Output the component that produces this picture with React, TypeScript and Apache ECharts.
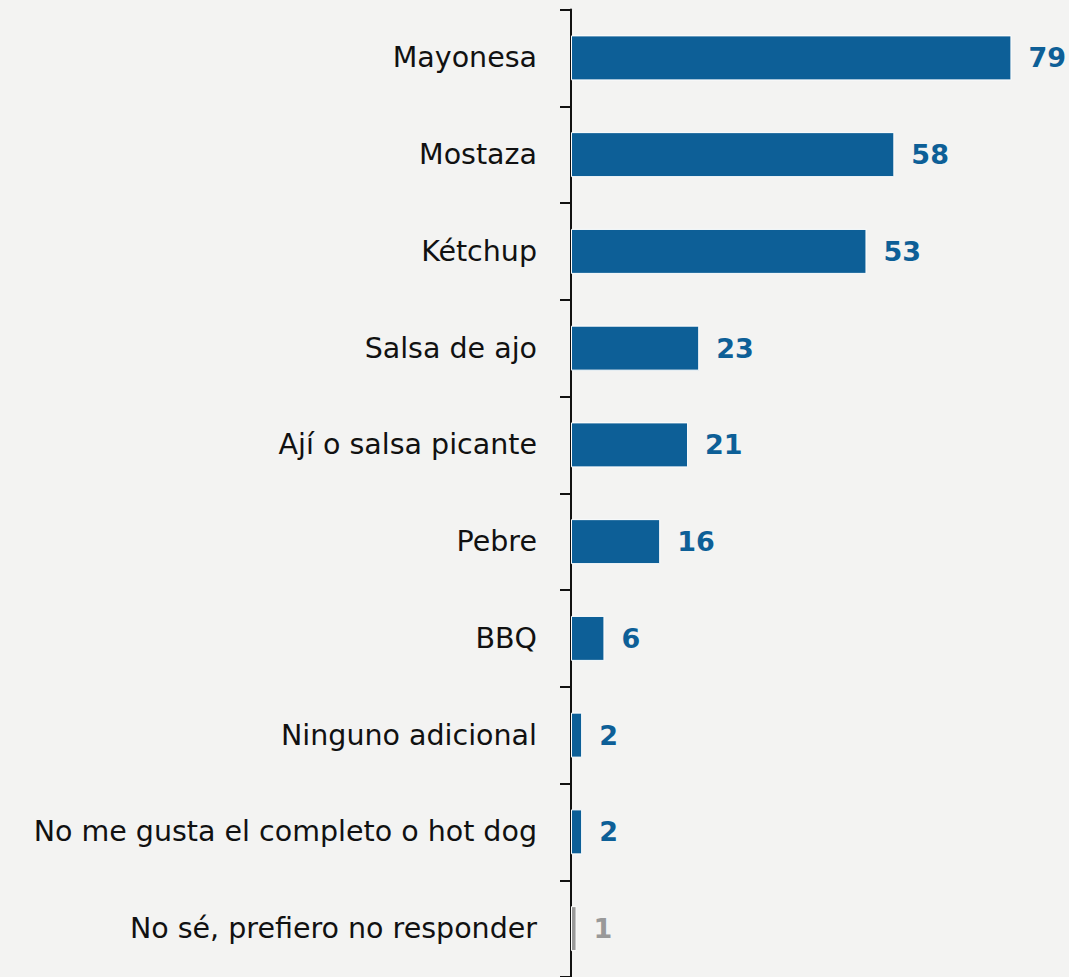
import React, { useEffect, useRef } from "react";
import * as echarts from "echarts";

const categories = [
  "Mayonesa",
  "Mostaza",
  "Kétchup",
  "Salsa de ajo",
  "Ají o salsa picante",
  "Pebre",
  "BBQ",
  "Ninguno adicional",
  "No me gusta el completo o hot dog",
  "No sé, prefiero no responder",
];
const values = [79, 58, 53, 23, 21, 16, 6, 2, 2, 1];
const barColors = [
  "#0d5f97", "#0d5f97", "#0d5f97", "#0d5f97", "#0d5f97",
  "#0d5f97", "#0d5f97", "#0d5f97", "#0d5f97", "#999999",
];

export default function App() {
  const ref = useRef<HTMLDivElement>(null);
  useEffect(() => {
    if (!ref.current) return;
    const chart = echarts.init(ref.current, null, { renderer: "svg" });
    chart.setOption({
      animation: false,
      backgroundColor: "#f3f3f2",
      grid: { left: 571, top: 9.5, width: 446, height: 970 },
      xAxis: {
        type: "value",
        min: 0,
        max: 80,
        show: false,
      },
      yAxis: {
        type: "category",
        inverse: true,
        data: categories,
        axisLine: { show: true, lineStyle: { color: "#111", width: 2 } },
        axisTick: { show: true, length: 11, lineStyle: { color: "#111", width: 2 } },
        axisLabel: {
          margin: 34,
          fontFamily: "DejaVu Sans",
          fontSize: 28.5,
          color: "#111",
        },
      },
      series: [
        {
          type: "bar",
          barWidth: 45,
          data: values.map((v, i) => ({
            value: v,
            itemStyle: { color: barColors[i] },
            label: { color: barColors[i] },
          })),
          itemStyle: { borderColor: "#ffffff", borderWidth: 1 },
          label: {
            show: true,
            position: "right",
            distance: 17,
            fontFamily: "DejaVu Sans",
            fontWeight: "bold",
            fontSize: 27,
            padding: [3, 0, 0, 0],
          },
        },
      ],
    });
    return () => chart.dispose();
  }, []);
  return (
    <div
      ref={ref}
      style={{ position: "absolute", left: 0, top: 0, width: 1069, height: 977 }}
    />
  );
}
